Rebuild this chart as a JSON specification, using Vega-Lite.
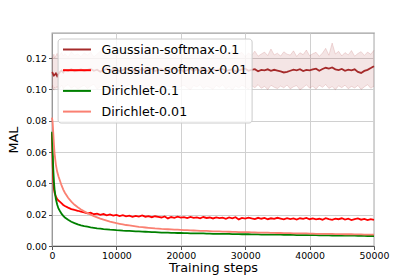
{
"$schema": "https://vega.github.io/schema/vega-lite/v6.json",
"width": 322, "height": 213,
"autosize": {"type": "none"},
"padding": {"left": 52, "top": 33, "right": 41, "bottom": 31},
"background": "white",
"config": {
  "font": "DejaVu Sans",
  "view": {"stroke": "#a0a0a0", "strokeWidth": 1.3},
  "axis": {"labelFont": "DejaVu Sans", "titleFont": "DejaVu Sans", "labelFontSize": 9.4, "labelColor": "#000", "titleFontSize": 12.8, "titleFontWeight": "normal", "titleColor": "#000", "gridColor": "#d0d0d0", "gridWidth": 1, "tickColor": "#555", "tickSize": 3.5, "labelPadding": 2, "domainColor": "#888", "labelFlush": false, "labelOverlap": false},
  "legend": {"labelFont": "DejaVu Sans"}
},
"datasets": {"d": [
{"s":0,"g1":0.1110,"lo":0.1010,"hi":0.1205,"r":0.0720,"d1":0.0730,"d01":0.0820},
{"s":100,"g1":0.1105,"lo":0.1025,"hi":0.1195,"r":0.0520,"d1":0.0600,"d01":0.0790},
{"s":200,"g1":0.1095,"lo":0.1000,"hi":0.1210,"r":0.0420,"d1":0.0490,"d01":0.0720},
{"s":300,"g1":0.1088,"lo":0.0995,"hi":0.1225,"r":0.0365,"d1":0.0410,"d01":0.0650},
{"s":400,"g1":0.1092,"lo":0.1015,"hi":0.1200,"r":0.0340,"d1":0.0360,"d01":0.0590},
{"s":600,"g1":0.1102,"lo":0.1005,"hi":0.1215,"r":0.0315,"d1":0.0300,"d01":0.0520},
{"s":800,"g1":0.1085,"lo":0.1020,"hi":0.1230,"r":0.0300,"d1":0.0265,"d01":0.0475},
{"s":1000,"g1":0.1098,"lo":0.0998,"hi":0.1208,"r":0.0290,"d1":0.0240,"d01":0.0445},
{"s":1250,"g1":0.1112,"lo":0.1012,"hi":0.1222,"r":0.0282,"d1":0.0222,"d01":0.0415},
{"s":1500,"g1":0.1120,"lo":0.1028,"hi":0.1236,"r":0.0272,"d1":0.0205,"d01":0.0385},
{"s":1750,"g1":0.1108,"lo":0.1003,"hi":0.1212,"r":0.0262,"d1":0.0192,"d01":0.0360},
{"s":2000,"g1":0.1125,"lo":0.1018,"hi":0.1228,"r":0.0255,"d1":0.0182,"d01":0.0340},
{"s":2500,"g1":0.1118,"lo":0.1030,"hi":0.1205,"r":0.0245,"d1":0.0167,"d01":0.0308},
{"s":3000,"g1":0.1130,"lo":0.1008,"hi":0.1240,"r":0.0236,"d1":0.0155,"d01":0.0283},
{"s":3500,"g1":0.1115,"lo":0.1022,"hi":0.1218,"r":0.0230,"d1":0.0146,"d01":0.0263},
{"s":4000,"g1":0.1122,"lo":0.1001,"hi":0.1226,"r":0.0225,"d1":0.0138,"d01":0.0247},
{"s":4500,"g1":0.1128,"lo":0.1016,"hi":0.1210,"r":0.0219,"d1":0.0132,"d01":0.0233},
{"s":5000,"g1":0.1117,"lo":0.1027,"hi":0.1233,"r":0.0215,"d1":0.0127,"d01":0.0221},
{"s":5500,"g1":0.1124,"lo":0.1006,"hi":0.1219,"r":0.0208,"d1":0.0123,"d01":0.0210},
{"s":6000,"g1":0.1131,"lo":0.1021,"hi":0.1238,"r":0.0212,"d1":0.0119,"d01":0.0200},
{"s":6500,"g1":0.1119,"lo":0.1033,"hi":0.1207,"r":0.0203,"d1":0.0116,"d01":0.0191},
{"s":7000,"g1":0.1126,"lo":0.1002,"hi":0.1225,"r":0.0207,"d1":0.0113,"d01":0.0183},
{"s":7500,"g1":0.1113,"lo":0.1017,"hi":0.1244,"r":0.0199,"d1":0.0111,"d01":0.0175},
{"s":8000,"g1":0.1121,"lo":0.1025,"hi":0.1213,"r":0.0204,"d1":0.0108,"d01":0.0168},
{"s":8500,"g1":0.1133,"lo":0.1009,"hi":0.1229,"r":0.0196,"d1":0.0106,"d01":0.0162},
{"s":9000,"g1":0.1118,"lo":0.0999,"hi":0.1216,"r":0.0202,"d1":0.0104,"d01":0.0156},
{"s":9500,"g1":0.1125,"lo":0.1024,"hi":0.1235,"r":0.0194,"d1":0.0103,"d01":0.0151},
{"s":10000,"g1":0.1129,"lo":0.1013,"hi":0.1209,"r":0.0199,"d1":0.0101,"d01":0.0146},
{"s":10500,"g1":0.1116,"lo":0.1028,"hi":0.1227,"r":0.0191,"d1":0.0100,"d01":0.0142},
{"s":11000,"g1":0.1123,"lo":0.1004,"hi":0.1248,"r":0.0197,"d1":0.0098,"d01":0.0138},
{"s":11500,"g1":0.1135,"lo":0.1019,"hi":0.1214,"r":0.0189,"d1":0.0097,"d01":0.0134},
{"s":12000,"g1":0.1120,"lo":0.1031,"hi":0.1222,"r":0.0194,"d1":0.0096,"d01":0.0131},
{"s":12500,"g1":0.1127,"lo":0.1007,"hi":0.1239,"r":0.0186,"d1":0.0095,"d01":0.0128},
{"s":13000,"g1":0.1114,"lo":0.1015,"hi":0.1206,"r":0.0192,"d1":0.0094,"d01":0.0125},
{"s":13500,"g1":0.1122,"lo":0.0997,"hi":0.1231,"r":0.0188,"d1":0.0093,"d01":0.0122},
{"s":14000,"g1":0.1130,"lo":0.1023,"hi":0.1218,"r":0.0195,"d1":0.0092,"d01":0.0120},
{"s":14500,"g1":0.1119,"lo":0.1011,"hi":0.1243,"r":0.0187,"d1":0.0091,"d01":0.0118},
{"s":15000,"g1":0.1126,"lo":0.1026,"hi":0.1212,"r":0.0191,"d1":0.0090,"d01":0.0116},
{"s":15500,"g1":0.1132,"lo":0.1003,"hi":0.1226,"r":0.0184,"d1":0.0089,"d01":0.0114},
{"s":16000,"g1":0.1117,"lo":0.1018,"hi":0.1237,"r":0.0190,"d1":0.0088,"d01":0.0112},
{"s":16500,"g1":0.1124,"lo":0.1029,"hi":0.1208,"r":0.0186,"d1":0.0087,"d01":0.0111},
{"s":17000,"g1":0.1129,"lo":0.1008,"hi":0.1229,"r":0.0182,"d1":0.0086,"d01":0.0109},
{"s":17500,"g1":0.1115,"lo":0.1000,"hi":0.1252,"r":0.0189,"d1":0.0086,"d01":0.0108},
{"s":18000,"g1":0.1121,"lo":0.1021,"hi":0.1217,"r":0.0176,"d1":0.0085,"d01":0.0107},
{"s":18500,"g1":0.1128,"lo":0.1014,"hi":0.1224,"r":0.0185,"d1":0.0084,"d01":0.0106},
{"s":19000,"g1":0.1134,"lo":0.1032,"hi":0.1241,"r":0.0180,"d1":0.0084,"d01":0.0105},
{"s":19500,"g1":0.1119,"lo":0.1005,"hi":0.1210,"r":0.0187,"d1":0.0083,"d01":0.0104},
{"s":20000,"g1":0.1125,"lo":0.1019,"hi":0.1233,"r":0.0181,"d1":0.0083,"d01":0.0103},
{"s":20500,"g1":0.1113,"lo":0.1027,"hi":0.1220,"r":0.0184,"d1":0.0082,"d01":0.0102},
{"s":21000,"g1":0.1122,"lo":0.1010,"hi":0.1245,"r":0.0178,"d1":0.0082,"d01":0.0101},
{"s":21500,"g1":0.1130,"lo":0.0998,"hi":0.1213,"r":0.0186,"d1":0.0081,"d01":0.0100},
{"s":22000,"g1":0.1118,"lo":0.1024,"hi":0.1228,"r":0.0180,"d1":0.0081,"d01":0.0099},
{"s":22500,"g1":0.1127,"lo":0.1016,"hi":0.1236,"r":0.0183,"d1":0.0080,"d01":0.0098},
{"s":23000,"g1":0.1121,"lo":0.1030,"hi":0.1207,"r":0.0177,"d1":0.0080,"d01":0.0097},
{"s":23500,"g1":0.1133,"lo":0.1006,"hi":0.1232,"r":0.0185,"d1":0.0080,"d01":0.0097},
{"s":24000,"g1":0.1116,"lo":0.1020,"hi":0.1219,"r":0.0179,"d1":0.0079,"d01":0.0096},
{"s":24500,"g1":0.1124,"lo":0.1012,"hi":0.1247,"r":0.0182,"d1":0.0079,"d01":0.0095},
{"s":25000,"g1":0.1129,"lo":0.1001,"hi":0.1215,"r":0.0176,"d1":0.0078,"d01":0.0094},
{"s":25500,"g1":0.1120,"lo":0.1025,"hi":0.1224,"r":0.0183,"d1":0.0078,"d01":0.0094},
{"s":26000,"g1":0.1126,"lo":0.1013,"hi":0.1239,"r":0.0178,"d1":0.0078,"d01":0.0093},
{"s":26500,"g1":0.1131,"lo":0.1029,"hi":0.1211,"r":0.0181,"d1":0.0077,"d01":0.0092},
{"s":27000,"g1":0.1117,"lo":0.1004,"hi":0.1230,"r":0.0174,"d1":0.0077,"d01":0.0092},
{"s":27500,"g1":0.1123,"lo":0.1018,"hi":0.1221,"r":0.0182,"d1":0.0077,"d01":0.0091},
{"s":28000,"g1":0.1128,"lo":0.0996,"hi":0.1249,"r":0.0177,"d1":0.0076,"d01":0.0090},
{"s":28500,"g1":0.1114,"lo":0.1022,"hi":0.1214,"r":0.0184,"d1":0.0076,"d01":0.0090},
{"s":29000,"g1":0.1121,"lo":0.1009,"hi":0.1227,"r":0.0170,"d1":0.0076,"d01":0.0089},
{"s":29500,"g1":0.1127,"lo":0.1027,"hi":0.1236,"r":0.0179,"d1":0.0075,"d01":0.0089},
{"s":30000,"g1":0.1132,"lo":0.1015,"hi":0.1209,"r":0.0175,"d1":0.0075,"d01":0.0088},
{"s":30500,"g1":0.1119,"lo":0.1002,"hi":0.1233,"r":0.0181,"d1":0.0075,"d01":0.0088},
{"s":31000,"g1":0.1125,"lo":0.1023,"hi":0.1218,"r":0.0176,"d1":0.0074,"d01":0.0087},
{"s":31500,"g1":0.1129,"lo":0.1011,"hi":0.1244,"r":0.0172,"d1":0.0074,"d01":0.0087},
{"s":32000,"g1":0.1116,"lo":0.1030,"hi":0.1212,"r":0.0180,"d1":0.0074,"d01":0.0086},
{"s":32500,"g1":0.1124,"lo":0.1007,"hi":0.1226,"r":0.0174,"d1":0.0073,"d01":0.0086},
{"s":33000,"g1":0.1121,"lo":0.1019,"hi":0.1238,"r":0.0179,"d1":0.0073,"d01":0.0085},
{"s":33500,"g1":0.1128,"lo":0.0999,"hi":0.1216,"r":0.0171,"d1":0.0073,"d01":0.0085},
{"s":34000,"g1":0.1118,"lo":0.1026,"hi":0.1258,"r":0.0177,"d1":0.0073,"d01":0.0084},
{"s":34500,"g1":0.1125,"lo":0.1014,"hi":0.1220,"r":0.0173,"d1":0.0072,"d01":0.0084},
{"s":35000,"g1":0.1120,"lo":0.1005,"hi":0.1231,"r":0.0180,"d1":0.0072,"d01":0.0083},
{"s":35500,"g1":0.1115,"lo":0.1021,"hi":0.1213,"r":0.0175,"d1":0.0072,"d01":0.0083},
{"s":36000,"g1":0.1108,"lo":0.1010,"hi":0.1240,"r":0.0170,"d1":0.0071,"d01":0.0082},
{"s":36500,"g1":0.1112,"lo":0.1028,"hi":0.1225,"r":0.0178,"d1":0.0071,"d01":0.0082},
{"s":37000,"g1":0.1119,"lo":0.1003,"hi":0.1219,"r":0.0172,"d1":0.0071,"d01":0.0082},
{"s":37500,"g1":0.1126,"lo":0.1017,"hi":0.1246,"r":0.0176,"d1":0.0071,"d01":0.0081},
{"s":38000,"g1":0.1122,"lo":0.1024,"hi":0.1210,"r":0.0169,"d1":0.0070,"d01":0.0081},
{"s":38500,"g1":0.1129,"lo":0.0997,"hi":0.1234,"r":0.0177,"d1":0.0070,"d01":0.0080},
{"s":39000,"g1":0.1117,"lo":0.1012,"hi":0.1222,"r":0.0173,"d1":0.0070,"d01":0.0080},
{"s":39500,"g1":0.1124,"lo":0.1029,"hi":0.1251,"r":0.0179,"d1":0.0069,"d01":0.0080},
{"s":40000,"g1":0.1121,"lo":0.1008,"hi":0.1215,"r":0.0171,"d1":0.0069,"d01":0.0079},
{"s":40500,"g1":0.1127,"lo":0.1020,"hi":0.1228,"r":0.0176,"d1":0.0069,"d01":0.0079},
{"s":41000,"g1":0.1132,"lo":0.1001,"hi":0.1237,"r":0.0170,"d1":0.0069,"d01":0.0078},
{"s":41500,"g1":0.1119,"lo":0.1026,"hi":0.1211,"r":0.0174,"d1":0.0068,"d01":0.0078},
{"s":42000,"g1":0.1130,"lo":0.1013,"hi":0.1232,"r":0.0168,"d1":0.0068,"d01":0.0078},
{"s":42500,"g1":0.1138,"lo":0.1031,"hi":0.1262,"r":0.0178,"d1":0.0068,"d01":0.0077},
{"s":43000,"g1":0.1133,"lo":0.1006,"hi":0.1218,"r":0.0172,"d1":0.0068,"d01":0.0077},
{"s":43500,"g1":0.1140,"lo":0.1018,"hi":0.1296,"r":0.0167,"d1":0.0067,"d01":0.0077},
{"s":44000,"g1":0.1128,"lo":0.0998,"hi":0.1226,"r":0.0175,"d1":0.0067,"d01":0.0076},
{"s":44500,"g1":0.1123,"lo":0.1023,"hi":0.1243,"r":0.0171,"d1":0.0067,"d01":0.0076},
{"s":45000,"g1":0.1130,"lo":0.1011,"hi":0.1214,"r":0.0177,"d1":0.0067,"d01":0.0076},
{"s":45500,"g1":0.1119,"lo":0.1027,"hi":0.1235,"r":0.0169,"d1":0.0066,"d01":0.0075},
{"s":46000,"g1":0.1126,"lo":0.1004,"hi":0.1220,"r":0.0174,"d1":0.0066,"d01":0.0075},
{"s":46500,"g1":0.1121,"lo":0.1019,"hi":0.1248,"r":0.0166,"d1":0.0066,"d01":0.0075},
{"s":47000,"g1":0.1128,"lo":0.1009,"hi":0.1212,"r":0.0172,"d1":0.0066,"d01":0.0074},
{"s":47500,"g1":0.1112,"lo":0.1025,"hi":0.1229,"r":0.0176,"d1":0.0065,"d01":0.0074},
{"s":48000,"g1":0.1105,"lo":0.1000,"hi":0.1241,"r":0.0168,"d1":0.0065,"d01":0.0074},
{"s":48500,"g1":0.1118,"lo":0.1016,"hi":0.1217,"r":0.0173,"d1":0.0065,"d01":0.0073},
{"s":49000,"g1":0.1125,"lo":0.1030,"hi":0.1238,"r":0.0165,"d1":0.0064,"d01":0.0073},
{"s":49500,"g1":0.1136,"lo":0.1007,"hi":0.1224,"r":0.0171,"d1":0.0064,"d01":0.0073},
{"s":50000,"g1":0.1148,"lo":0.1021,"hi":0.1250,"r":0.0167,"d1":0.0064,"d01":0.0072}
]},
"data": {"name": "d"},
"layer": [
  {
    "mark": {"type": "area", "color": "#a52a2a", "opacity": 0.12},
    "encoding": {
      "x": {"field": "s", "type": "quantitative", "scale": {"domain": [0, 50000], "nice": false},
        "axis": {"title": "Training steps", "values": [0, 10000, 20000, 30000, 40000, 50000], "format": "d", "domainColor": "#555", "titlePadding": 2}},
      "y": {"field": "lo", "type": "quantitative", "scale": {"domain": [0, 0.136], "nice": false, "zero": false},
        "axis": {"title": "MAL", "values": [0, 0.02, 0.04, 0.06, 0.08, 0.1, 0.12], "format": ".2f", "domainColor": "#999", "titlePadding": 5}},
      "y2": {"field": "hi"}
    }
  },
  {
    "mark": {"type": "line", "color": "#a52a2a", "opacity": 0.15, "strokeWidth": 1},
    "encoding": {
      "x": {"field": "s", "type": "quantitative",
        "axis": {"title": "Training steps", "values": [0, 10000, 20000, 30000, 40000, 50000], "format": "d", "domainColor": "#555", "titlePadding": 2}},
      "y": {"field": "hi", "type": "quantitative",
        "axis": {"title": "MAL", "values": [0, 0.02, 0.04, 0.06, 0.08, 0.1, 0.12], "format": ".2f", "domainColor": "#999", "titlePadding": 5}}
    }
  },
  {
    "mark": {"type": "line", "color": "#a52a2a", "opacity": 0.15, "strokeWidth": 1},
    "encoding": {
      "x": {"field": "s", "type": "quantitative",
        "axis": {"title": "Training steps", "values": [0, 10000, 20000, 30000, 40000, 50000], "format": "d", "domainColor": "#555", "titlePadding": 2}},
      "y": {"field": "lo", "type": "quantitative",
        "axis": {"title": "MAL", "values": [0, 0.02, 0.04, 0.06, 0.08, 0.1, 0.12], "format": ".2f", "domainColor": "#999", "titlePadding": 5}}
    }
  },
  {
    "transform": [{"fold": ["g1", "r", "d1", "d01"], "as": ["k", "v"]}],
    "mark": {"type": "line", "strokeWidth": 1.8},
    "encoding": {
      "x": {"field": "s", "type": "quantitative",
        "axis": {"title": "Training steps", "values": [0, 10000, 20000, 30000, 40000, 50000], "format": "d", "domainColor": "#555", "titlePadding": 2}},
      "y": {"field": "v", "type": "quantitative",
        "axis": {"title": "MAL", "values": [0, 0.02, 0.04, 0.06, 0.08, 0.1, 0.12], "format": ".2f", "domainColor": "#999", "titlePadding": 5}},
      "color": {"field": "k", "type": "nominal",
        "scale": {"domain": ["g1", "r", "d1", "d01"], "range": ["#a52a2a", "#ff0000", "#008000", "#fa8072"]},
        "legend": {"title": null, "orient": "none", "legendX": 5.6, "legendY": 5.5,
          "fillColor": "rgba(255,255,255,0.8)", "strokeColor": "#cccccc", "cornerRadius": 3, "padding": 4,
          "symbolType": "M-1,0H4", "symbolSize": 125, "symbolStrokeWidth": 2, "labelOffset": 26,
          "labelFontSize": 12.6, "labelColor": "#000", "rowPadding": 6.7,
          "labelExpr": "datum.label == 'g1' ? 'Gaussian-softmax-0.1' : datum.label == 'r' ? 'Gaussian-softmax-0.01' : datum.label == 'd1' ? 'Dirichlet-0.1' : 'Dirichlet-0.01'"}}
    }
  }
]
}
